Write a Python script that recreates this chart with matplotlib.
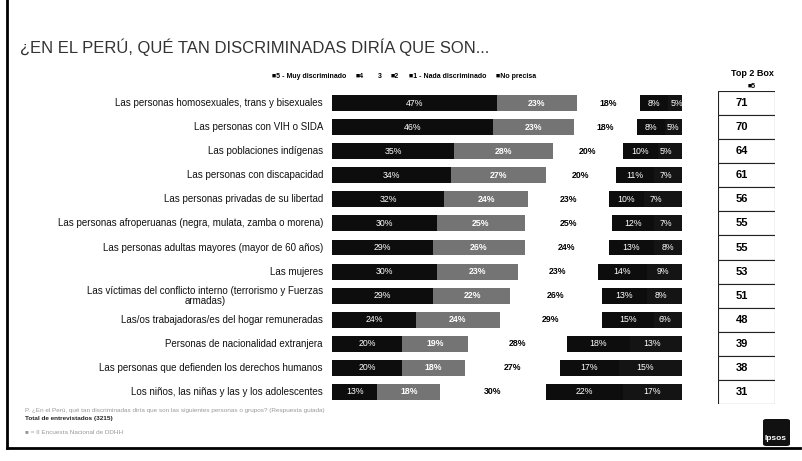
import matplotlib
matplotlib.use("Agg")
import matplotlib.pyplot as plt
from matplotlib.patches import Rectangle, FancyBboxPatch

plt.rcParams['font.family'] = ['Liberation Sans', 'DejaVu Sans']

categories = [
    "Las personas homosexuales, trans y bisexuales",
    "Las personas con VIH o SIDA",
    "Las poblaciones indígenas",
    "Las personas con discapacidad",
    "Las personas privadas de su libertad",
    "Las personas afroperuanas (negra, mulata, zamba o morena)",
    "Las personas adultas mayores (mayor de 60 años)",
    "Las mujeres",
    "Las víctimas del conflicto interno (terrorismo y Fuerzas\narmadas)",
    "Las/os trabajadoras/es del hogar remuneradas",
    "Personas de nacionalidad extranjera",
    "Las personas que defienden los derechos humanos",
    "Los niños, las niñas y las y los adolescentes",
]
v5 = [47, 46, 35, 34, 32, 30, 29, 30, 29, 24, 20, 20, 13]
v4 = [23, 23, 28, 27, 24, 25, 26, 23, 22, 24, 19, 18, 18]
v3 = [18, 18, 20, 20, 23, 25, 24, 23, 26, 29, 28, 27, 30]
v2 = [8, 8, 10, 11, 10, 12, 13, 14, 13, 15, 18, 17, 22]
v1 = [5, 5, 5, 7, 7, 7, 8, 9, 8, 6, 13, 15, 17]
vnp = [0, 0, 2, 1, 4, 1, 0, 1, 2, 2, 2, 3, 0]
top2 = [71, 70, 64, 61, 56, 55, 55, 53, 51, 48, 39, 38, 31]

series = [
    ("5 - Muy discriminado", v5, "#0d0d0d", "white", "normal"),
    ("4", v4, "#747474", "white", "bold"),
    ("3", v3, "white", "black", "bold"),
    ("2", v2, "#0d0d0d", "white", "normal"),
    ("1 - Nada discriminado", v1, "#141414", "white", "normal"),
    ("No precisa", vnp, "#141414", "white", "normal"),
]

W, H = 803, 461
fig = plt.figure(figsize=(W / 100, H / 100), dpi=100)
fig.patch.set_facecolor("white")

def fx(px):
    return px / W

def fy(py):
    return 1 - py / H

# frame
fig.add_artist(plt.Line2D([fx(7), fx(7)], [fy(0), fy(448)], color="black", lw=2))
fig.add_artist(plt.Line2D([fx(7), fx(800)], [fy(448), fy(448)], color="black", lw=2))

# title
fig.text(fx(20), fy(47), "¿EN EL PERÚ, QUÉ TAN DISCRIMINADAS DIRÍA QUE SON...",
         fontsize=12, color="#333333", va="center", ha="left")

# bars
ax = fig.add_axes([fx(332), fy(404), 350 / W, 313 / H])
ax.set_xlim(0, 100)
ax.set_ylim(12.5, -0.5)
ax.axis("off")
ypos = list(range(len(categories)))
left = [0] * len(categories)
for name, vals, col, tcol, tw in series:
    ax.barh(ypos, vals, left=left, height=0.66, color=col, edgecolor="none")
    if name != "No precisa":
        for i, v in enumerate(vals):
            ax.text(left[i] + v / 2, i, f"{v}%", ha="center", va="center",
                    fontsize=6.3, color=tcol, fontweight=tw)
    left = [l + v for l, v in zip(left, vals)]

for i, c in enumerate(categories):
    ax.text(-2.6, i, c, ha="right", va="center", fontsize=7, color="#111111",
            multialignment="center", linespacing=1.0)

# legend
leg_items = [(272, "5 - Muy discriminado", True), (356, "4", True), (378, "3", False),
             (391, "2", True), (409, "1 - Nada discriminado", True), (496, "No precisa", True)]
for x, lab, mark in leg_items:
    txt = ("■" if mark else "") + lab
    fig.text(fx(x), fy(77), txt, fontsize=5, fontweight="bold", va="center", ha="left")

# top 2 box
fig.text(fx(752), fy(74), "Top 2 Box", fontsize=6.5, fontweight="bold", ha="center", va="center")
fig.text(fx(752), fy(87), "■5", fontsize=5, fontweight="bold", ha="center", va="center")
ax2 = fig.add_axes([fx(718), fy(404), 57 / W, 313 / H])
ax2.set_xlim(0, 1)
ax2.set_ylim(12.5, -0.5)
ax2.axis("off")
for i, t in enumerate(top2):
    ax2.add_patch(Rectangle((0, i - 0.5), 1, 1, facecolor="white", edgecolor="#222222", lw=0.8))
    ax2.text(0.42, i, str(t), ha="center", va="center", fontsize=8, fontweight="bold")

# footer
fig.text(fx(25), fy(410), "P. ¿En el Perú, qué tan discriminadas diría que son las siguientes personas o grupos? (Respuesta guiada)",
         fontsize=4.6, color="#9a9a9a", ha="left", va="center")
fig.text(fx(25), fy(418), "Total de entrevistados (3215)", fontsize=4.6, fontweight="bold",
         color="#222222", ha="left", va="center")
fig.text(fx(25), fy(432), "■ = II Encuesta Nacional de DDHH", fontsize=4.6, color="#9a9a9a",
         ha="left", va="center")

# logo
fig.add_artist(FancyBboxPatch((fx(763), fy(446)), 27 / W, 27 / H, boxstyle="round,pad=0,rounding_size=0.004",
                              facecolor="#111111", edgecolor="none", transform=fig.transFigure))
fig.text(fx(776), fy(438), "Ipsos", color="white", fontsize=6, fontweight="bold", ha="center", va="center")

fig.savefig("out.png", dpi=100, facecolor="white")
